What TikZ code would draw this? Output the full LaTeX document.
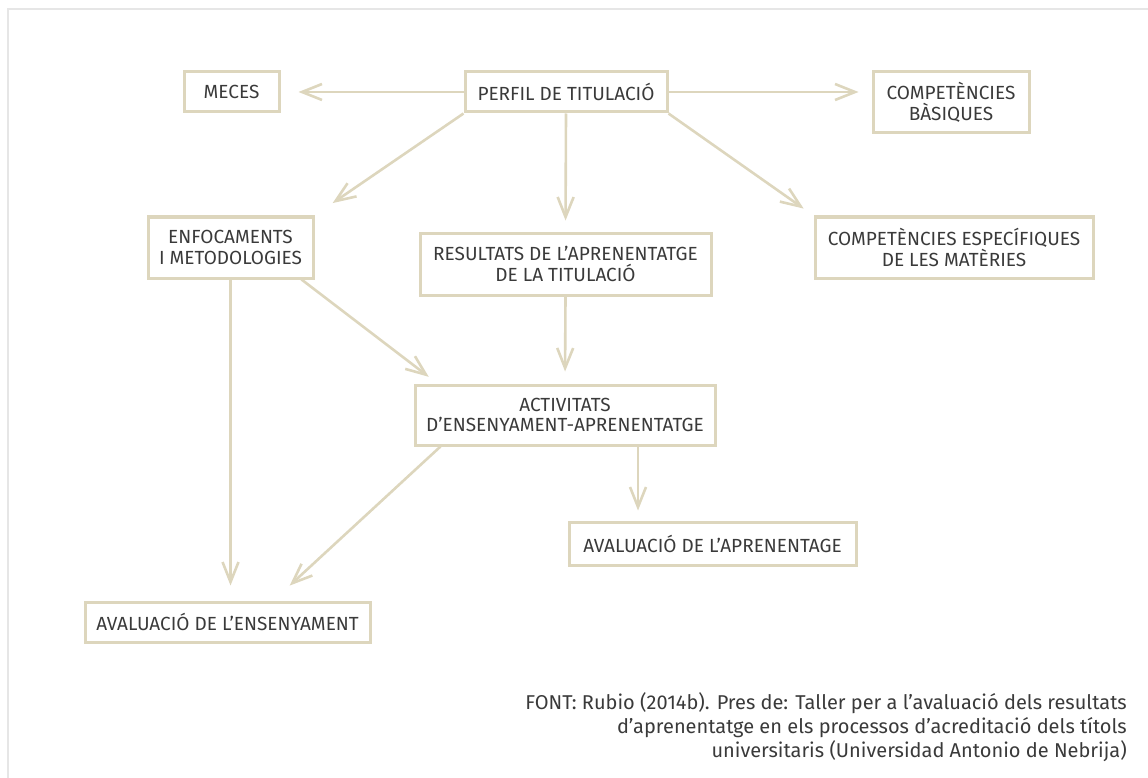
\documentclass[tikz,border=0pt]{standalone}
\usepackage{fontspec}
\setmainfont{Fira Sans}
\usetikzlibrary{arrows.meta}
\definecolor{beige}{HTML}{DDD6BD}
\definecolor{txtgray}{HTML}{3A3A3A}
\definecolor{framegray}{HTML}{E6E6E6}

\begin{document}
\begin{tikzpicture}[x=1pt,y=-1pt,
    box/.style={draw=beige, line width=3pt, align=center, text=txtgray, inner sep=0pt,
        font=\fontsize{19}{20.5}\selectfont},
    arr/.style={draw=beige, line width=2.6pt, -{Straight Barb[length=20pt,width=16pt]}}]
    \useasboundingbox (0,0) rectangle (1148,778);
    \draw[framegray, line width=2.5pt] (8,778) -- (8,9) -- (1148,9);

    \node[box, minimum width=202pt, minimum height=40pt] (perfil) at (566,92) {PERFIL DE TITULACIÓ};
    \node[box, minimum width=95pt, minimum height=40pt] (meces) at (231.5,92) {MECES};
    \node[box, minimum width=156pt, minimum height=61pt] (basiq) at (951,102.5) {COMPETÈNCIES\\BÀSIQUES};
    \node[box, minimum width=165pt, minimum height=61pt] (enfoc) at (230.5,247.5) {ENFOCAMENTS\\I METODOLOGIES};
    \node[box, minimum width=291pt, minimum height=62pt] (result) at (565.5,264) {RESULTATS DE L’APRENENTATGE\\DE LA TITULACIÓ};
    \node[box, minimum width=278pt, minimum height=61pt] (especif) at (954,247.5) {COMPETÈNCIES ESPECÍFIQUES\\DE LES MATÈRIES};
    \node[box, minimum width=300pt, minimum height=60pt] (activ) at (565,415) {ACTIVITATS\\D’ENSENYAMENT-APRENENTATGE};
    \node[box, minimum width=287pt, minimum height=43pt] (apren) at (712.5,543.5) {AVALUACIÓ DE L’APRENENTAGE};
    \node[box, minimum width=285pt, minimum height=40pt] (ensen) at (227.5,622) {AVALUACIÓ DE L’ENSENYAMENT};

    \node[anchor=east, align=right, text=txtgray, inner sep=0pt,
        font=\fontsize{20}{24}\selectfont] (font) at (1127,727)
        {FONT: Rubio (2014b). Pres de: Taller per a l’avaluació dels resultats\\
         d’aprenentatge en els processos d’acreditació dels títols\\
         universitaris (Universidad Antonio de Nebrija)};

    \draw[arr, shorten >=18pt] (perfil) -- (meces);
    \draw[arr, shorten >=13pt] (perfil.east) -- (perfil.east -| basiq.west);
    \draw[arr, shorten >=22pt] (perfil.south west) -- (enfoc.north east);
    \draw[arr, shorten >=11pt] (perfil.south) -- (result.north);
    \draw[arr, shorten >=12pt] (perfil.south east) -- (especif.north west);
    \draw[arr, shorten >=12pt] (result.south) -- (activ.north);
    \draw[arr, shorten >=11pt] ([xshift=-13pt]enfoc.south east) -- ([xshift=24pt]activ.north west);
    \draw[arr, shorten >=15pt] (enfoc.south) -- (enfoc.south |- ensen.north);
    \draw[arr, shorten >=22pt] ([xshift=27pt]activ.south west) -- ([xshift=-98pt]ensen.north east);
    \draw[arr, shorten >=10pt] ([xshift=73pt]activ.south) coordinate (a1) -- (a1 |- apren.north);

\end{tikzpicture}
\end{document}
